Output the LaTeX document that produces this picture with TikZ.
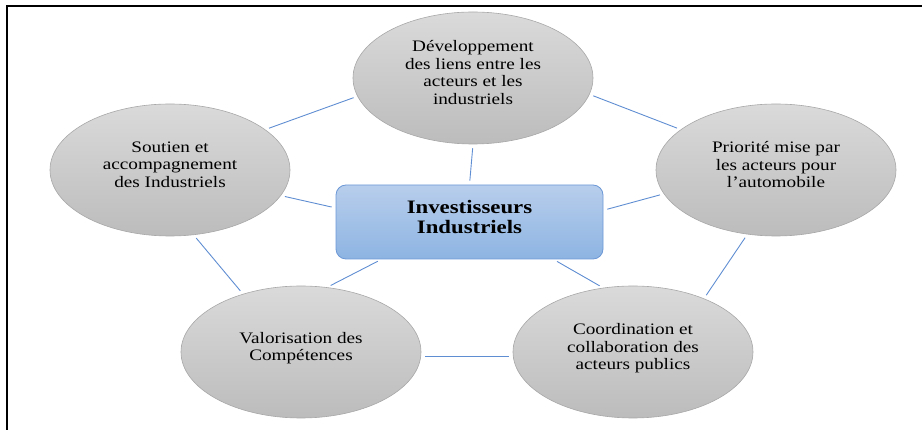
\documentclass[tikz,border=0pt]{standalone}
\usepackage{fontspec}
\setmainfont[FakeStretch=1.2]{Liberation Serif}
\usetikzlibrary{shapes.geometric}
\definecolor{RingTop} {RGB}{218,218,218}
\definecolor{RingBot} {RGB}{188,188,188}
\definecolor{RingLine}{RGB}{168,168,168}
\definecolor{HubTop}  {RGB}{184,206,236}
\definecolor{HubBot}  {RGB}{141,180,226}
\definecolor{HubLine} {RGB}{108,152,214}
\definecolor{LinkCol} {RGB}{96,142,210}
\newcommand{\dropstrut}{\rule[-11pt]{0pt}{11pt}}
\tikzset{
  nd_ring/.style={ellipse,draw=RingLine,line width=0.6pt,top color=RingTop,bottom color=RingBot,minimum width=240pt,minimum height=132pt,inner sep=0pt,align=center,font=\fontsize{16}{17.5}\selectfont},
  nd_hub/.style={rectangle,rounded corners=10pt,draw=HubLine,line width=0.8pt,top color=HubTop,bottom color=HubBot,minimum width=267pt,minimum height=74pt,inner sep=0pt,align=center,font=\fontsize{19}{20}\selectfont\bfseries},
  lnk/.style={draw=LinkCol,line width=0.9pt,shorten <=4pt,shorten >=4pt},
}
\begin{document}
\begin{tikzpicture}[x=1pt,y=-1pt]
\useasboundingbox (0,0) rectangle (922,430);
% frame
\draw[line width=2pt,line cap=rect] (7,430) -- (7,6) -- (922,6);
% ring
\node[nd_ring] at (473,78)  (dev){Développement\\des liens entre les\\acteurs et les\\industriels\dropstrut};
\node[nd_ring] at (170,170) (sup){Soutien et\\accompagnement\\des Industriels\dropstrut};
\node[nd_ring] at (776,170) (pri){Priorité mise par\\les acteurs pour\\l’automobile\dropstrut};
\node[nd_ring] at (301,352) (val){Valorisation des\\Compétences\dropstrut};
\node[nd_ring] at (633,352) (coo){Coordination et\\collaboration des\\acteurs publics\dropstrut};
% hub
\node[nd_hub] at (469.5,222) (hub){Investisseurs\\Industriels\dropstrut};
% links
\foreach \a/\b in {dev.189/sup.23,dev.352/pri.157,dev.south/hub.north,sup.347/hub.174,pri.192/hub.5,
  sup.290/val.135,hub.203/val.68,hub.336/coo.115,pri.246/coo.37,val.358/coo.182}{\draw[lnk](\a)--(\b);}
\end{tikzpicture}
\end{document}
